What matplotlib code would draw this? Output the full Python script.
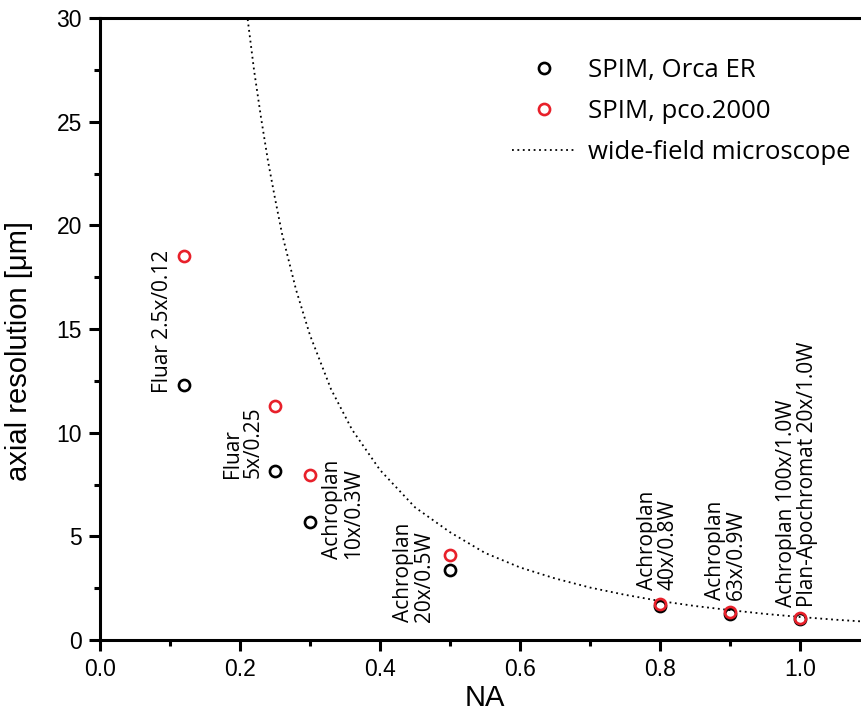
import matplotlib
matplotlib.use("Agg")
import matplotlib.pyplot as plt
from matplotlib.ticker import MultipleLocator

# ---- data ----
na_values = [0.12, 0.25, 0.30, 0.50, 0.80, 0.90, 1.00]
orca_er = [12.3, 8.15, 5.7, 3.4, 1.65, 1.25, 1.0]
pco2000 = [18.5, 11.3, 7.95, 4.1, 1.75, 1.35, 1.05]
objective_labels = [
    "Fluar 2.5x/0.12",
    "Fluar\n5x/0.25",
    "Achroplan\n10x/0.3W",
    "Achroplan\n20x/0.5W",
    "Achroplan\n40x/0.8W",
    "Achroplan\n63x/0.9W",
    "Achroplan 100x/1.0W\nPlan-Apochromat 20x/1.0W",
]
widefield_na = [0.21, 0.22, 0.23, 0.24, 0.25, 0.26, 0.28, 0.30, 0.33, 0.36,
                0.40, 0.45, 0.50, 0.55, 0.60, 0.65, 0.70, 0.75, 0.80, 0.85,
                0.90, 0.95, 1.00, 1.05, 1.10]
widefield_res = [30.2, 27.5, 25.2, 23.1, 21.3, 19.6, 16.9, 14.7, 12.1, 10.15,
                 8.2, 6.4, 5.2, 4.2, 3.5, 2.97, 2.53, 2.18, 1.88, 1.64,
                 1.44, 1.26, 1.11, 0.98, 0.87]
series_names = ["SPIM, Orca ER", "SPIM, pco.2000", "wide-field microscope"]

# label offsets in pixels (dx, dy of bottom of rotated text relative to black point)
label_offsets = [(-22, -8), (-32, -7), (33, -37), (-36, -52), (-2, 16), (-4, 14), (-3, 12)]

W, H = 861, 713
fig = plt.figure(figsize=(W / 100, H / 100), dpi=100)
ax = fig.add_axes([100 / W, (H - 640) / H, 770 / W, 622 / H])

tick_font = "Liberation Sans"
ann_font = "Open Sans"

wf, = ax.plot(widefield_na, widefield_res, color="black", lw=1.3,
              linestyle=(0, (1, 2)), label=series_names[2])
s1, = ax.plot(na_values, orca_er, linestyle="none", marker="o", ms=8, mew=1.9,
              mfc="none", mec="black", label=series_names[0], zorder=3)
s2, = ax.plot(na_values, pco2000, linestyle="none", marker="o", ms=8, mew=1.9,
              mfc="none", mec="#e8202a", label=series_names[1], zorder=4)

ax.set_xlim(0, 1.1)
ax.set_ylim(0, 30)
ax.xaxis.set_major_locator(MultipleLocator(0.2))
ax.xaxis.set_minor_locator(MultipleLocator(0.1))
ax.yaxis.set_major_locator(MultipleLocator(5))
ax.yaxis.set_minor_locator(MultipleLocator(2.5))
ax.xaxis.set_major_formatter(matplotlib.ticker.FormatStrFormatter("%.1f"))
ax.tick_params(which="major", direction="out", length=8, width=2.2, pad=5,
               labelsize=16.5)
ax.tick_params(which="minor", direction="out", length=4.5, width=2.2)
for lab in ax.get_xticklabels() + ax.get_yticklabels():
    lab.set_fontfamily(tick_font)
for sp in ax.spines.values():
    sp.set_linewidth(2.2)

ax.set_xlabel("NA", fontsize=21, fontfamily=tick_font, labelpad=2)
ax.set_ylabel("axial resolution [\u03bcm]", fontsize=21, fontfamily=tick_font)
ax.yaxis.set_label_coords(-0.087, 0.4646)

px2pt = 72 / 100
for x, y, txt, (dx, dy) in zip(na_values, orca_er, objective_labels, label_offsets):
    ax.annotate(txt, xy=(x, y), xytext=(dx * px2pt, dy * px2pt),
                textcoords="offset points", rotation=90, ha="center", va="bottom",
                multialignment="left", fontsize=15, fontfamily=ann_font,
                linespacing=1.0)

leg = ax.legend(handles=[s1, s2, wf], loc="upper left", frameon=False,
                bbox_to_anchor=(512 / W, 1 - 58 / H), bbox_transform=fig.transFigure,
                borderpad=0, borderaxespad=0, handlelength=2.5, handletextpad=0.45,
                labelspacing=0.62, prop={"family": ann_font, "size": 18.5})

fig.savefig("out.png", dpi=100)
